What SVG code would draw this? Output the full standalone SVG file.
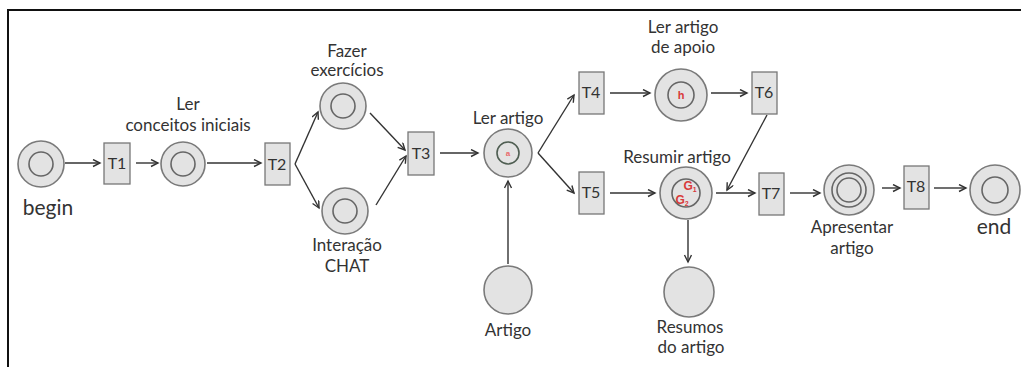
<svg xmlns="http://www.w3.org/2000/svg" width="1021" height="367" viewBox="0 0 1021 367">
<defs>
<marker id="ah" markerWidth="10" markerHeight="10" refX="8" refY="4" orient="auto" markerUnits="userSpaceOnUse"><path d="M1,0.5 L8,4 L1,7.5" fill="none" stroke="#333" stroke-width="1.4"/></marker>
<style>
.place{fill:#e3e3e3;stroke:#7a7a7a;stroke-width:1.6}
.inner{fill:#e3e3e3;stroke:#666;stroke-width:1.6}
.trans{fill:#e3e3e3;stroke:#777;stroke-width:1.3}
.lbl{font-family:Lato,"Liberation Sans",sans-serif;font-size:17px;fill:#333;text-anchor:middle}
.tl{font-size:16px}
.big{font-size:21px}
.tk{font-family:"Liberation Sans",sans-serif;font-weight:bold;fill:#d83a3a;text-anchor:middle}
.edge{stroke:#333;stroke-width:1.4;fill:none;marker-end:url(#ah)}
</style>
</defs>
<rect x="0" y="0" width="1021" height="367" fill="#fff"/>
<path d="M8,367 L8,10 L1021,10" fill="none" stroke="#111" stroke-width="2"/>
<g id="connectors">
<path class="edge" d="M65,163 L100,163"/>
<path class="edge" d="M136,163 L158,163"/>
<path class="edge" d="M207,163 L261,163"/>
<path class="edge" d="M295,164 L318,112"/>
<path class="edge" d="M295,164 L319,208"/>
<path class="edge" d="M370,113 L405,150"/>
<path class="edge" d="M376,205 L406,156"/>
<path class="edge" d="M440,153 L478,153"/>
<path class="edge" d="M508,264 L508,181"/>
<path class="edge" d="M538,153 L574,95"/>
<path class="edge" d="M538,153 L574,193"/>
<path class="edge" d="M610,93 L650,93"/>
<path class="edge" d="M711,93 L747,93"/>
<path class="edge" d="M610,193 L655,193"/>
<path class="edge" d="M716,193 L755,193"/>
<path class="edge" d="M767,115 L727,190"/>
<path class="edge" d="M688,220 L688,262"/>
<path class="edge" d="M790,193 L820,193"/>
<path class="edge" d="M882,188 L900,188"/>
<path class="edge" d="M934,188 L966,188"/>
</g>
<g id="begin"><circle class="place" cx="41" cy="164" r="23"/><circle class="inner" cx="41" cy="164" r="12"/><text class="lbl big" x="48" y="215">begin</text></g>
<g id="T1"><rect class="trans" x="104" y="143" width="26" height="41"/><text class="lbl tl" x="117" y="169">T1</text></g>
<g id="ler-conceitos"><circle class="place" cx="183" cy="164" r="22"/><circle class="inner" cx="183" cy="164" r="12"/><text class="lbl" x="188" y="110">Ler</text><text class="lbl" x="188" y="131">conceitos iniciais</text></g>
<g id="T2"><rect class="trans" x="265" y="143" width="25" height="42"/><text class="lbl tl" x="277" y="170">T2</text></g>
<g id="fazer-exercicios"><circle class="place" cx="343" cy="106" r="23"/><circle class="inner" cx="343" cy="106" r="12"/><text class="lbl" x="347" y="57">Fazer</text><text class="lbl" x="347" y="76">exercícios</text></g>
<g id="interacao-chat"><circle class="place" cx="345" cy="211" r="23"/><circle class="inner" cx="345" cy="211" r="12"/><text class="lbl" x="347" y="251">Interação</text><text class="lbl" x="347" y="272">CHAT</text></g>
<g id="T3"><rect class="trans" x="408" y="132" width="26" height="43"/><text class="lbl tl" x="421" y="159">T3</text></g>
<g id="ler-artigo"><circle class="place" cx="508" cy="153" r="24"/><circle class="inner" cx="508" cy="153" r="11" style="stroke:#4f5e52"/><text class="tk" x="508" y="156" font-size="8" style="fill:#e86a6a">a</text><text class="lbl" x="508" y="124">Ler artigo</text></g>
<g id="artigo"><circle class="place" cx="508" cy="290" r="24"/><text class="lbl" x="508" y="336">Artigo</text></g>
<g id="T4"><rect class="trans" x="579" y="72" width="25" height="42"/><text class="lbl tl" x="591" y="98">T4</text></g>
<g id="ler-artigo-apoio"><circle class="place" cx="681" cy="95" r="26"/><circle class="inner" cx="681" cy="95" r="13"/><text class="tk" x="681" y="99" font-size="11">h</text><text class="lbl" x="683" y="33">Ler artigo</text><text class="lbl" x="683" y="53">de apoio</text></g>
<g id="T6"><rect class="trans" x="752" y="72" width="25" height="42"/><text class="lbl tl" x="764" y="98">T6</text></g>
<g id="T5"><rect class="trans" x="579" y="172" width="25" height="42"/><text class="lbl tl" x="591" y="198">T5</text></g>
<g id="resumir-artigo"><circle class="place" cx="686" cy="193" r="26"/><circle class="inner" cx="686" cy="193" r="14"/><text class="tk" x="690" y="190" font-size="12">G<tspan font-size="7" dy="2">1</tspan></text><text class="tk" x="682" y="204" font-size="12">G<tspan font-size="7" dy="2">2</tspan></text><text class="lbl" x="677" y="163">Resumir artigo</text></g>
<g id="resumos-artigo"><circle class="place" cx="689" cy="292" r="25"/><text class="lbl" x="690" y="333">Resumos</text><text class="lbl" x="691" y="353">do artigo</text></g>
<g id="T7"><rect class="trans" x="759" y="173" width="25" height="42"/><text class="lbl tl" x="771" y="199">T7</text></g>
<g id="apresentar-artigo"><circle class="place" cx="849" cy="190" r="25"/><circle class="inner" cx="849" cy="190" r="17"/><circle class="inner" cx="849" cy="190" r="12"/><text class="lbl" x="852" y="233">Apresentar</text><text class="lbl" x="852" y="254">artigo</text></g>
<g id="T8"><rect class="trans" x="904" y="166" width="25" height="43"/><text class="lbl tl" x="916" y="192">T8</text></g>
<g id="end"><circle class="place" cx="995" cy="190" r="25"/><circle class="inner" cx="995" cy="190" r="13"/><text class="lbl big" x="994" y="234">end</text></g>
</svg>
